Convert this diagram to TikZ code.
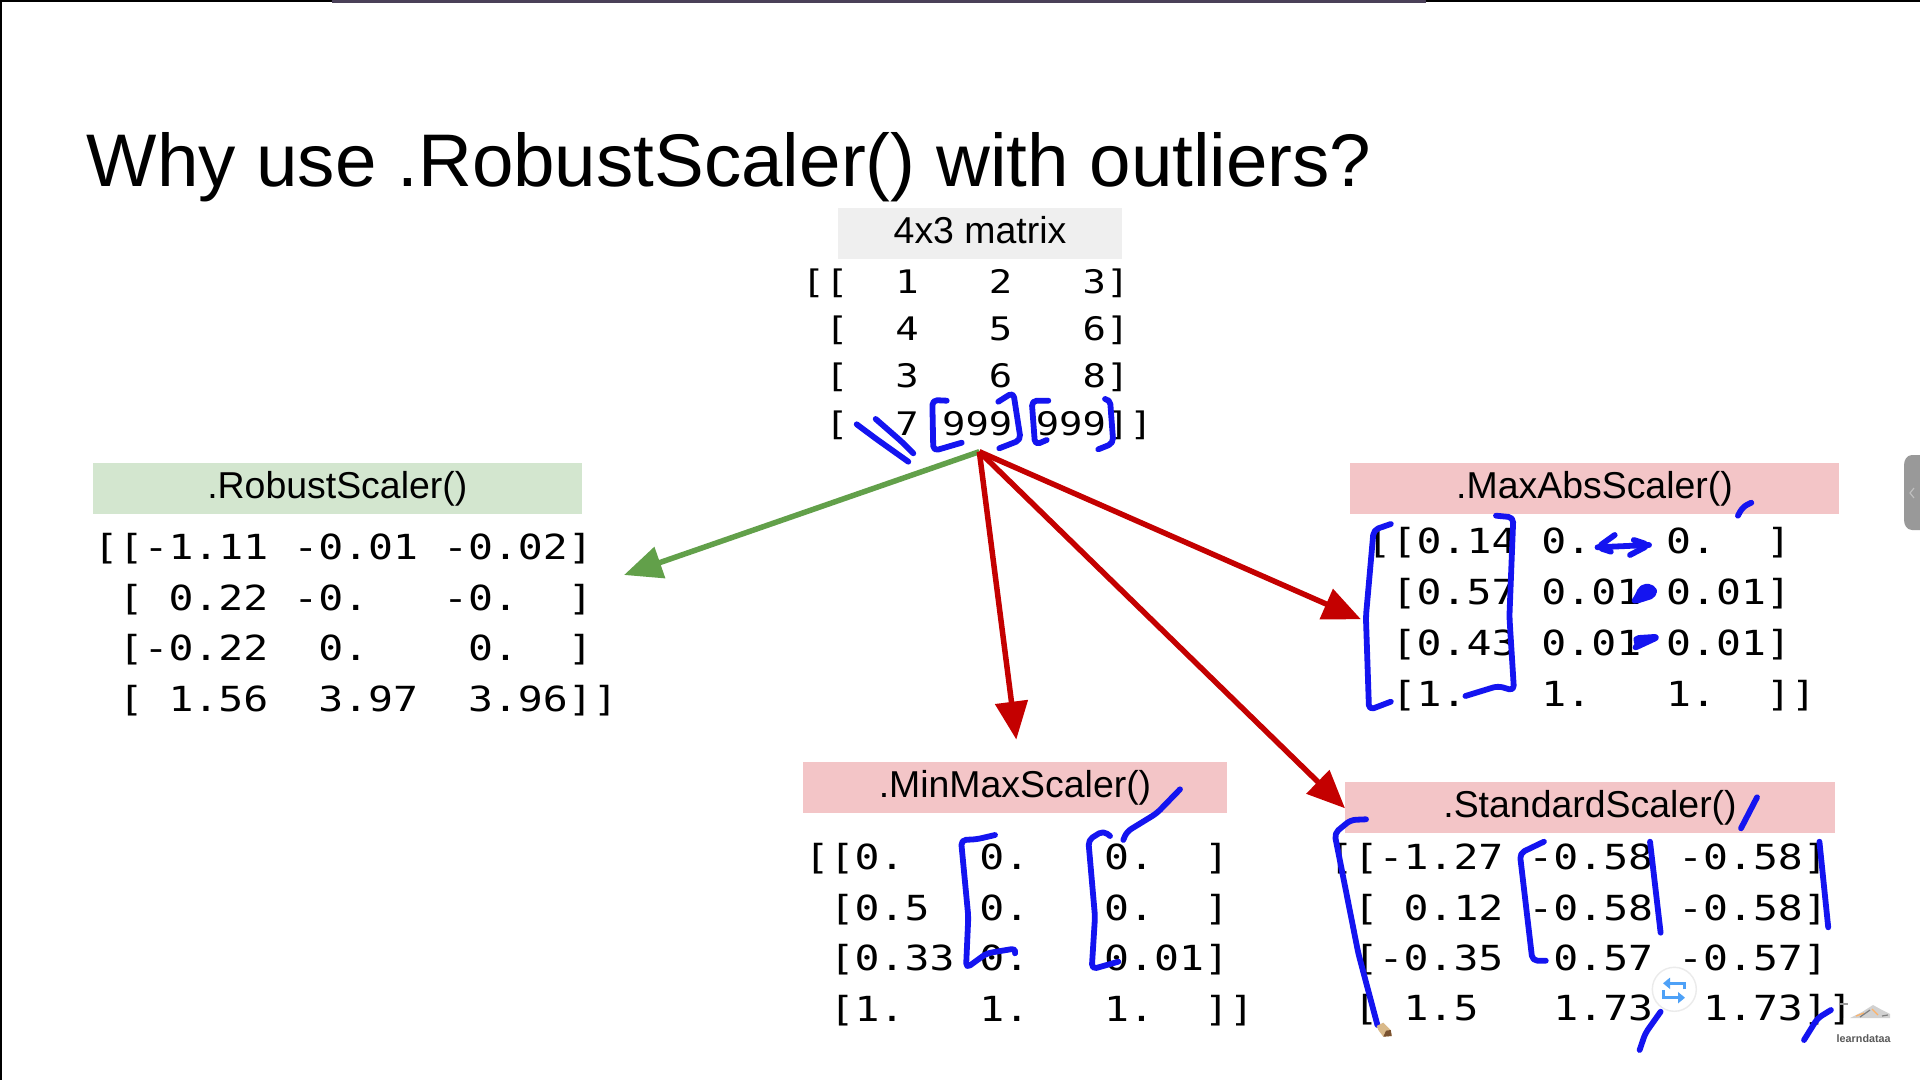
\documentclass[tikz,border=0pt]{standalone}
\usepackage{fontspec}
\setmainfont{Liberation Sans}
\newfontfamily\matfont[FakeStretch=1.2]{DejaVu Sans Mono}
\usetikzlibrary{arrows.meta}
\definecolor{hdrgrey}{HTML}{EFEFEF}
\definecolor{hdrgreen}{HTML}{D3E6CF}
\definecolor{hdrred}{HTML}{F3C5C7}
\definecolor{arrgreen}{HTML}{62A04A}
\definecolor{arrred}{HTML}{C40000}
\definecolor{inkblue}{HTML}{1414F0}
\definecolor{barpurple}{HTML}{4A4058}
\definecolor{swapblue}{HTML}{4EA1F7}
\definecolor{penwood}{HTML}{D9B98A}
\definecolor{pentip}{HTML}{7A5230}
\tikzset{
  hdr/.style={inner sep=0, minimum height=.51cm, text height=7.9pt, text depth=2.1pt, font=\fontsize{10.65pt}{12pt}\selectfont},
  matrow/.style={inner sep=0, anchor=base west, font=\matfont\fontsize{9.83pt}{12pt}\selectfont},
  toprow/.style={inner sep=0, anchor=base west, font=\matfont\fontsize{9.22pt}{12pt}\selectfont},
  pointer/.style={line width=.055cm, -{Triangle[length=.38cm,width=.32cm]}},
  ink/.style={draw=inkblue, line width=.058cm, line cap=round, line join=round, rounded corners=.05cm},
  swaparrow/.style={swapblue, line width=.03cm, -{Triangle[length=.07cm,width=.11cm]}},
}
\begin{document}
\begin{tikzpicture}
\useasboundingbox (0,0) rectangle (19.2,-10.8);
\fill[white] (0,0) rectangle (19.2,-10.8);
\fill[black] (0,0) rectangle (19.2,-.02);
\fill[black] (0,0) rectangle (.02,-10.8);
\fill[barpurple] (3.32,0) rectangle (14.26,-.035);
\fill[black!40] (19.2,-4.55) -- (19.12,-4.55) to[out=180,in=90] (19.04,-4.65) -- (19.04,-5.2) to[out=-90,in=180] (19.12,-5.3) -- (19.2,-5.3) -- cycle;
\draw[black!25, line width=.012cm] (19.14,-4.88) -- (19.1,-4.93) -- (19.14,-4.98);

\node[anchor=base west, inner sep=0, font=\fontsize{21.22pt}{24pt}\selectfont] (title) at (.86,-1.865) {Why use .RobustScaler() with outliers?};

\node[hdr, fill=hdrgrey, minimum width=2.84cm] (tophdr) at (9.8,-2.335) {4x3 matrix};
\node[hdr, fill=hdrgreen, minimum width=4.89cm] (robusthdr) at (3.373,-4.885) {.RobustScaler()};
\node[hdr, fill=hdrred, minimum width=4.89cm] (maxabshdr) at (15.945,-4.885) {.MaxAbsScaler()};
\node[hdr, fill=hdrred, minimum width=4.24cm] (minmaxhdr) at (10.15,-7.87) {.MinMaxScaler()};
\node[hdr, fill=hdrred, minimum width=4.9cm] (standardhdr) at (15.9,-8.077) {.StandardScaler()};

% input matrix
\node[toprow] (top1) at (8.01,-2.937) {[[~~1~~~2~~~3]};
\node[toprow] (top2) at (8.01,-3.41) {~[~~4~~~5~~~6]};
\node[toprow] (top3) at (8.01,-3.877) {~[~~3~~~6~~~8]};
\node[toprow] (top4) at (8.01,-4.35) {~[~~7~999~999]]};

% scaled matrices
\node[matrow] (robust1) at (.93,-5.59) {[[-1.11~-0.01~-0.02]};
\node[matrow] (robust2) at (.93,-6.1) {~[~0.22~-0.~~~-0.~~]};
\node[matrow] (robust3) at (.93,-6.6) {~[-0.22~~0.~~~~0.~~]};
\node[matrow] (robust4) at (.93,-7.11) {~[~1.56~~3.97~~3.96]]};

\node[matrow] (maxabs1) at (13.66,-5.533) {[[0.14~0.~~~0.~~]};
\node[matrow] (maxabs2) at (13.66,-6.04) {~[0.57~0.01~0.01]};
\node[matrow] (maxabs3) at (13.66,-6.55) {~[0.43~0.01~0.01]};
\node[matrow] (maxabs4) at (13.66,-7.06) {~[1.~~~1.~~~1.~~]]};

\node[matrow] (minmax1) at (8.04,-8.693) {[[0.~~~0.~~~0.~~]};
\node[matrow] (minmax2) at (8.04,-9.2) {~[0.5~~0.~~~0.~~]};
\node[matrow] (minmax3) at (8.04,-9.7) {~[0.33~0.~~~0.01]};
\node[matrow] (minmax4) at (8.04,-10.217) {~[1.~~~1.~~~1.~~]]};

\node[matrow] (standard1) at (13.28,-8.69) {[[-1.27~-0.58~-0.58]};
\node[matrow] (standard2) at (13.28,-9.2) {~[~0.12~-0.58~-0.58]};
\node[matrow] (standard3) at (13.28,-9.7) {~[-0.35~-0.57~-0.57]};
\node[matrow] (standard4) at (13.28,-10.207) {~[~1.5~~~1.73~~1.73]]};

% arrows out of the matrix
\coordinate (src) at (9.793,-4.517);
\coordinate (robusttip) at (6.24,-5.75);
\coordinate (minmaxtip) at (10.163,-7.396);
\coordinate (standardtip) at (13.45,-8.083);
\coordinate (maxabstip) at (13.61,-6.193);
\draw[pointer, arrgreen] (src) -- (robusttip);
\draw[pointer, arrred] (src) -- (minmaxtip);
\draw[pointer, arrred] (src) -- (standardtip);
\draw[pointer, arrred] (src) -- (maxabstip);

% pen marks on the input matrix
\draw[ink] (8.567,-4.243) -- (8.75,-4.38) -- (9.083,-4.617);
\draw[ink] (8.757,-4.19) -- (9.017,-4.417) -- (9.133,-4.533);
\draw[ink] (9.467,-4.007) -- (9.323,-4) -- (9.333,-4.51) -- (9.617,-4.427);
\draw[ink] (9.983,-4.017) -- (10.133,-3.923) -- (10.207,-4.4) -- (9.993,-4.483);
\draw[ink] (10.483,-4.007) -- (10.317,-4.007) -- (10.35,-4.45) -- (10.467,-4.4);
\draw[ink] (11.05,-3.99) -- (11.1,-3.993) -- (11.133,-4.433) -- (10.983,-4.493);

% pen marks on MaxAbsScaler
\draw[ink] (17.379,-5.157) -- (17.429,-5.067) -- (17.513,-5.027);
\draw[ink] (13.908,-5.24) -- (13.736,-5.3) -- (13.659,-6.167) -- (13.69,-7.1) -- (13.908,-7.017);
\draw[ink] (14.96,-5.157) -- (15.133,-5.173) -- (15.094,-6.167) -- (15.14,-6.907) -- (14.98,-6.86) -- (14.654,-6.96);
\draw[ink] (16.147,-5.35) -- (15.975,-5.473) -- (16.108,-5.517);
\draw[ink] (15.975,-5.473) -- (16.49,-5.45);
\draw[ink] (16.338,-5.4) -- (16.49,-5.45) -- (16.3,-5.55);
\draw[ink, fill=inkblue] (16.338,-6.017) -- (16.549,-5.95) -- (16.53,-5.867) -- (16.415,-5.867) -- (16.376,-5.967) -- cycle;
\draw[ink, fill=inkblue] (16.338,-6.483) -- (16.587,-6.367) -- (16.338,-6.383) -- (16.4,-6.45) -- cycle;

% pen marks on MinMaxScaler
\draw[ink] (11.233,-8.4) -- (11.267,-8.317) -- (11.567,-8.133) -- (11.8,-7.893);
\draw[ink] (9.95,-8.35) -- (9.767,-8.393) -- (9.61,-8.4) -- (9.683,-9.167) -- (9.66,-9.683) -- (9.867,-9.533) -- (10.167,-9.483) -- (10.15,-9.533);
\draw[ink] (11.1,-8.36) -- (11.033,-8.307) -- (10.883,-8.4) -- (10.95,-9.167) -- (10.917,-9.693) -- (11.183,-9.617);

% pen marks on StandardScaler
\draw[ink] (17.41,-8.283) -- (17.57,-7.973);
\draw[ink] (13.66,-8.193) -- (13.506,-8.2) -- (13.345,-8.333) -- (13.583,-9.533) -- (13.774,-10.25);
\draw[ink] (15.439,-8.417) -- (15.198,-8.533) -- (15.324,-9.607) -- (15.458,-9.607);
\draw[ink] (16.5,-8.417) -- (16.606,-9.327);
\draw[ink] (18.194,-8.417) -- (18.282,-9.273);
\draw[ink] (16.606,-10.117) -- (16.453,-10.333) -- (16.396,-10.5);
\draw[ink] (18.309,-10.1) -- (18.175,-10.183) -- (18.04,-10.4);

% overlays
\fill[penwood] (13.767,-10.26) -- (13.833,-10.227) -- (13.907,-10.3) -- (13.917,-10.36) -- (13.833,-10.367) -- (13.783,-10.3) -- cycle;
\fill[pentip] (13.907,-10.3) -- (13.917,-10.36) -- (13.833,-10.367) -- (13.86,-10.307) -- cycle;
\node[circle, fill=white, draw=black!8, minimum size=.44cm, inner sep=0] (swap) at (16.743,-9.893) {};
\draw[swaparrow] (16.843,-9.893) -- (16.843,-9.833) -- (16.63,-9.833);
\draw[swaparrow] (16.633,-9.9) -- (16.633,-9.977) -- (16.85,-9.977);
\fill[black!18] (18.5,-10.18) -- (18.62,-10.12) -- (18.73,-10.05) -- (18.82,-10.1) -- (18.9,-10.14) -- (18.9,-10.18) -- cycle;
\draw[orange!60, line width=.012cm] (18.56,-10.16) -- (18.64,-10.13) (18.72,-10.09) -- (18.78,-10.15);
\draw[black!50, line width=.012cm] (18.6,-10.17) -- (18.7,-10.1) (18.82,-10.16) -- (18.88,-10.15);
\draw[black!40, line width=.016cm] (18.433,-10.04) -- (18.433,-10.18) (18.39,-10.04) -- (18.48,-10.04);
\node[anchor=base west, inner sep=0, text=black!65, font=\bfseries\fontsize{3.07pt}{4pt}\selectfont] (logo) at (18.36,-10.427) {learndataa};
\end{tikzpicture}
\end{document}
